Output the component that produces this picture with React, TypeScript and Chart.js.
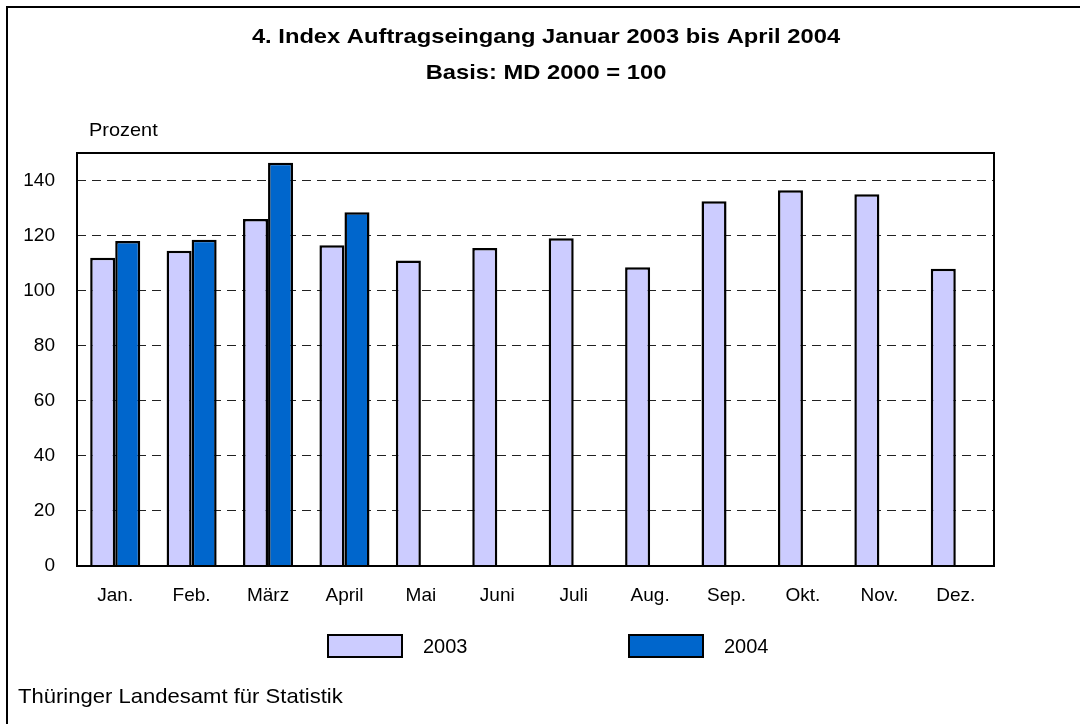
import React, { useEffect, useRef } from "react";
import { Chart, registerables } from "chart.js";

Chart.register(...registerables);

const months = ["Jan.", "Feb.", "März", "April", "Mai", "Juni", "Juli", "Aug.", "Sep.", "Okt.", "Nov.", "Dez."];
const values2003 = [112, 114.5, 126, 116.5, 111, 115.5, 119, 108.5, 132.5, 136.5, 135, 108];
const values2004 = [118, 118.5, 146.5, 128.5, null, null, null, null, null, null, null, null];
const seriesLabels = ["2003", "2004"];
const seriesColors = ["#CCCCFF", "#0066CC"];
const titleLine1 = "4. Index Auftragseingang Januar 2003 bis April 2004";
const titleLine2 = "Basis: MD 2000 = 100";
const unitLabel = "Prozent";
const sourceLabel = "Thüringer Landesamt für Statistik";

const FONT = "'Liberation Sans', Arial, sans-serif";

function stretchText(ctx: any, text: string, x: number, y: number, sx: number, align: string) {
  ctx.save();
  ctx.translate(x, y);
  ctx.scale(sx, 1);
  ctx.textAlign = align;
  ctx.fillText(text, 0, 0);
  ctx.restore();
}

const decorPlugin = {
  id: "decor",
  afterDraw(chart: any) {
    const ctx = chart.ctx;
    const { left, right, top, bottom } = chart.chartArea;
    ctx.save();
    // outer frame (left and top edges visible)
    ctx.strokeStyle = "#000";
    ctx.lineWidth = 2;
    ctx.strokeRect(7, 7, chart.width + 20, chart.height + 20);
    // plot frame
    ctx.strokeRect(left, top, right - left, bottom - top);
    // titles
    ctx.fillStyle = "#000";
    ctx.textBaseline = "alphabetic";
    ctx.font = `bold 21px ${FONT}`;
    stretchText(ctx, titleLine1, 546, 43, 1.13, "center");
    stretchText(ctx, titleLine2, 546, 79, 1.13, "center");
    // unit
    ctx.font = `19px ${FONT}`;
    stretchText(ctx, unitLabel, 89, 136, 1.05, "left");
    // source
    ctx.font = `21px ${FONT}`;
    stretchText(ctx, sourceLabel, 18, 703, 1.05, "left");
    // legend
    const items = [
      { x: 328, label: seriesLabels[0], color: seriesColors[0] },
      { x: 629, label: seriesLabels[1], color: seriesColors[1] },
    ];
    ctx.font = `20px ${FONT}`;
    items.forEach((it) => {
      ctx.fillStyle = it.color;
      ctx.fillRect(it.x, 635, 74, 22);
      ctx.strokeStyle = "#000";
      ctx.lineWidth = 2;
      ctx.strokeRect(it.x, 635, 74, 22);
      ctx.fillStyle = "#000";
      ctx.textAlign = "left";
      ctx.fillText(it.label, it.x + 95, 653);
    });
    ctx.restore();
  },
};

export default function App() {
  const ref = useRef<HTMLCanvasElement | null>(null);
  useEffect(() => {
    document.body.style.margin = "0";
    const canvas = ref.current!;
    const chart = new Chart(canvas, {
      type: "bar",
      data: {
        labels: months,
        datasets: [
          {
            label: seriesLabels[0],
            data: values2003,
            backgroundColor: seriesColors[0],
            borderColor: "#000",
            borderWidth: 2.5,
            categoryPercentage: 0.655,
            barPercentage: 1,
          },
          {
            label: seriesLabels[1],
            data: values2004 as any,
            backgroundColor: seriesColors[1],
            borderColor: "#000",
            borderWidth: 2.5,
            categoryPercentage: 0.655,
            barPercentage: 1,
          },
        ],
      },
      options: {
        responsive: false,
        animation: false,
        layout: { padding: { top: 153, right: 86, left: 0, bottom: 0 } },
        plugins: {
          legend: { display: false },
          tooltip: { enabled: false },
          title: { display: false },
        },
        scales: {
          x: {
            grid: { display: false, drawTicks: false },
            border: { display: false },
            ticks: { color: "#000", font: { family: FONT, size: 19 }, padding: 18 },
            afterFit(scale: any) {
              scale.height = 158;
            },
          },
          y: {
            min: 0,
            max: 150,
            grid: { color: "#222", lineWidth: 1, drawTicks: false },
            border: { display: false, dash: [9, 6] },
            ticks: {
              stepSize: 20,
              color: "#000",
              font: { family: FONT, size: 19 },
              padding: 22,
              callback: (v: any) => (Number(v) % 20 === 0 ? String(v) : ""),
            },
            afterFit(scale: any) {
              scale.width = 77;
            },
          },
        },
      },
      plugins: [decorPlugin],
    } as any);
    return () => chart.destroy();
  }, []);
  return <canvas ref={ref} width={1080} height={724} style={{ display: "block" }} />;
}
